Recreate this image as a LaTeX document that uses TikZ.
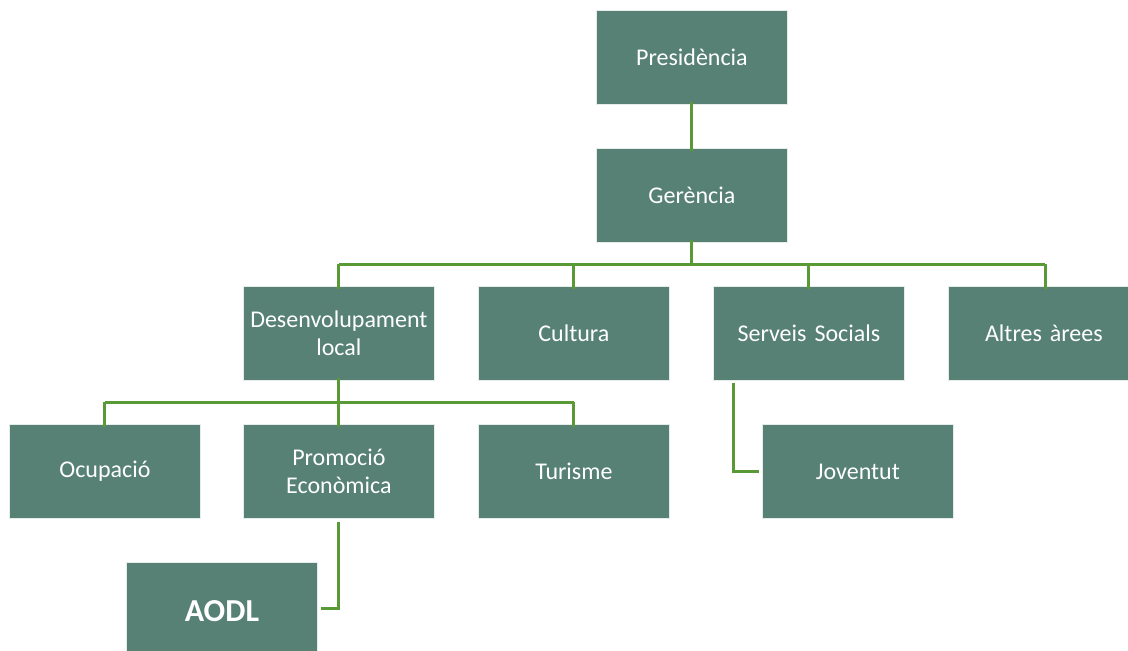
\documentclass[tikz,border=0pt]{standalone}
\usepackage{fontspec}
\setmainfont{Carlito}
\definecolor{boxfill}{HTML}{568174}
\definecolor{linegreen}{HTML}{5A9A36}
\begin{document}
\begin{tikzpicture}[x=1pt,y=-1pt,
  orgbox/.style={draw=white!85!boxfill, line width=0.8pt, fill=boxfill, text=white, minimum width=191pt, minimum height=94pt, inner sep=0pt, align=center, font=\fontsize{24}{27.5}\selectfont, anchor=north west, text width=185pt},
  link/.style={draw=linegreen, line width=3pt}]
\useasboundingbox (0,0) rectangle (1128,651);
\node[orgbox] (pres) at (596,10) {Presidència};
\node[orgbox] (ger) at (596,148) {Gerència};
\node[orgbox] (des) at (243,286) {Desenvolupament\\local};
\node[orgbox] (cul) at (478,286) {Cultura};
\node[orgbox] (ser) at (713,286) {Serveis Socials};
\node[orgbox] (alt) at (948,286) {Altres àrees};
\node[orgbox] (ocu) at (9,424) {Ocupació};
\node[orgbox] (pro) at (243,424) {Promoció\\Econòmica};
\node[orgbox] (tur) at (478,424) {Turisme};
\node[orgbox] (jov) at (762,424) {Joventut};
\node[orgbox, minimum height=98pt, font=\bfseries\fontsize{32}{36}\selectfont] (aodl) at (126,562) {AODL};
% connectors
\draw[link] ([yshift=3pt]pres.south) -- ([yshift=-3pt]ger.north);
\coordinate (gbus) at (ger.south |- 0,264);
\draw[link] ([yshift=3pt]ger.south) -- (gbus);
\draw[link] (des.north |- gbus) -- (1045,264);
\draw[link] (des.north |- gbus) -- ([yshift=-3pt]des.north);
\draw[link] (cul.north |- gbus) -- ([yshift=-3pt]cul.north);
\draw[link] (ser.north |- gbus) -- ([yshift=-3pt]ser.north);
\draw[link] (1045,264) -- ([yshift=-3pt]1045,286);
\coordinate (dbus) at (des.south |- 0,402);
\draw[link] ([yshift=3pt]des.south) -- (dbus);
\draw[link] (ocu.north |- dbus) -- (tur.north |- dbus);
\draw[link] (ocu.north |- dbus) -- ([yshift=-3pt]ocu.north);
\draw[link] (pro.north |- dbus) -- ([yshift=-3pt]pro.north);
\draw[link] (tur.north |- dbus) -- ([yshift=-3pt]tur.north);
\coordinate (sc) at (733,383);
\draw[link] (sc) |- ([xshift=-3pt]jov.west);
\coordinate (pc) at (pro.south |- 0,522);
\draw[link] (pc) |- ([xshift=3pt]aodl.east |- 0,608);
\end{tikzpicture}
\end{document}
